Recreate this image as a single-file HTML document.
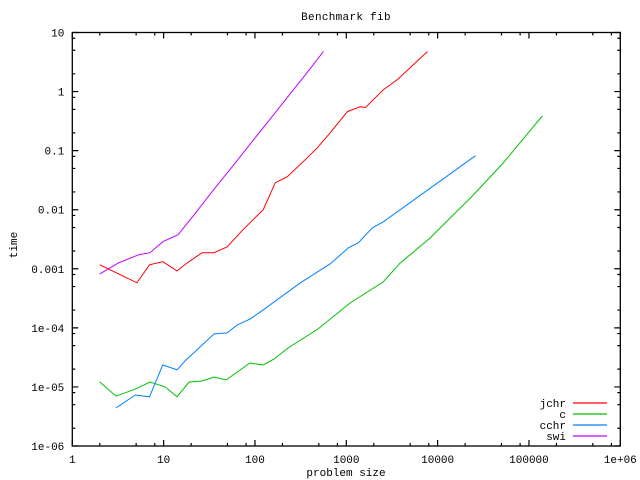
<!DOCTYPE html>
<html><head><meta charset="utf-8"><style>
html,body{margin:0;padding:0;background:#fff;}
svg{display:block;font-family:"Liberation Mono",monospace;font-size:11px;}
</style></head><body>
<svg id="chart" width="640" height="480" viewBox="0 0 640 480" xmlns="http://www.w3.org/2000/svg">
<text x="346" y="20" text-anchor="middle" letter-spacing="0.3">Benchmark fib</text>
<text x="0" y="0" text-anchor="middle" transform="translate(17,245) rotate(-90)">time</text>
<text x="346" y="476" text-anchor="middle">problem size</text>
<g id="axes"></g><g id="series"></g><g id="legend"></g>
</svg>
<script>
const xTicks=[1,10,100,1000,10000,100000,1000000];
const xTickLabels=["1","10","100","1000","10000","100000","1e+06"];
const yTicks=[1e-6,1e-5,1e-4,1e-3,0.01,0.1,1,10];
const yTickLabels=["1e-06","1e-05","1e-04","0.001","0.01","0.1","1","10"];
const seriesNames=["jchr","c","cchr","swi"];
const jchrX=[2,5.1,7,9.8,14,18.1,26.4,35.7,49.7,74,123,167,226,375,483,669,1028,1428,1620,2552,3635,7754];
const jchrY=[1.17e-3,5.8e-4,1.17e-3,1.32e-3,9.2e-4,1.26e-3,1.87e-3,1.87e-3,2.36e-3,4.58e-3,0.01,0.0287,0.0362,0.076,0.112,0.202,0.458,0.557,0.536,1.08,1.6,4.76];
const cX=[2,3,4.9,7.1,10.4,14,19,26.3,35.6,48.2,88,123,162,230,491,1101,2530,3880,8280,24500,52200,140000];
const cY=[1.21e-5,7.0e-6,9.2e-6,1.21e-5,1.0e-5,6.8e-6,1.21e-5,1.26e-5,1.47e-5,1.31e-5,2.54e-5,2.35e-5,2.97e-5,4.56e-5,9.6e-5,2.64e-4,5.97e-4,1.25e-3,3.32e-3,0.0177,0.0618,0.386];
const cchrX=[3,4.9,7,9.8,14,17.2,35.7,49.7,64,89,115,314,669,1054,1357,1933,2552,26000];
const cchrY=[4.4e-6,7.3e-6,6.8e-6,2.36e-5,1.94e-5,2.76e-5,7.9e-5,8.2e-5,1.12e-4,1.42e-4,1.87e-4,5.8e-4,1.22e-3,2.27e-3,2.76e-3,4.95e-3,6.27e-3,0.082];
const swiX=[2,3.2,5.35,7.1,9.8,14.4,22.5,36,59,95,154,249,403,561];
const swiY=[8.2e-4,1.26e-3,1.73e-3,1.87e-3,2.87e-3,3.77e-3,8.9e-3,0.0227,0.058,0.148,0.377,0.96,2.45,4.76];

const L=72.3,R=620.3,T=32.5,B=446;
function sx(v){return L+(Math.log10(v)-0)/6*(R-L);}
function sy(v){return B-(Math.log10(v)+6)/7*(B-T);}
const NS="http://www.w3.org/2000/svg";
function mk(tag,attrs,parent){const e=document.createElementNS(NS,tag);for(const k in attrs)e.setAttribute(k,attrs[k]);parent.appendChild(e);return e;}
const axes=document.getElementById('axes');
const frame=mk('rect',{x:L,y:T,width:R-L,height:B-T,fill:'none',stroke:'#000','stroke-width':1.3},axes);


const minors=[2,5,8];
xTicks.forEach((v,i)=>{
  const x=sx(v);
  const t=mk('path',{d:`M${x},${B}v-6M${x},${T}v6`,stroke:'#000','stroke-width':1.2},axes);
  
  
  const lb=mk('text',{x:x,y:B+17,'text-anchor':'middle'},axes);lb.textContent=xTickLabels[i];
  
  
  if(i<xTicks.length-1)minors.forEach(m=>{const mx=sx(v*m);
    const mt=mk('path',{d:`M${mx},${B}v-3M${mx},${T}v3`,stroke:'#000','stroke-width':1.2},axes);
    
    });
});
yTicks.forEach((v,i)=>{
  const y=sy(v);
  const t=mk('path',{d:`M${L},${y}h6M${R},${y}h-6`,stroke:'#000','stroke-width':1.2},axes);
  
  
  const lb=mk('text',{x:L-8,y:y+4,'text-anchor':'end'},axes);lb.textContent=yTickLabels[i];
  
  
  if(i<yTicks.length-1)minors.forEach(m=>{const my=sy(v*m);
    const mt=mk('path',{d:`M${L},${my}h3M${R},${my}h-3`,stroke:'#000','stroke-width':1.2},axes);
    
    });
});
const colors=["#ff0000","#00c000","#0080ff","#c000ff"];
const allX=[jchrX,cX,cchrX,swiX],allY=[jchrY,cY,cchrY,swiY];
const sg=document.getElementById('series'),lg=document.getElementById('legend');
seriesNames.forEach((n,i)=>{
  const pts=allX[i].map((x,j)=>sx(x).toFixed(1)+','+sy(allY[i][j]).toFixed(1)).join(' ');
  const p=mk('polyline',{points:pts,fill:'none',stroke:colors[i],'stroke-width':1},sg);
  
  
  const ly=403+i*11;
  const t=mk('text',{x:566,y:ly+4,'text-anchor':'end'},lg);t.textContent=n;
  
  
  const ln=mk('line',{x1:573,x2:607,y1:ly,y2:ly,stroke:colors[i],'stroke-width':1.2},lg);
  
  
});
</script>
</body></html>
